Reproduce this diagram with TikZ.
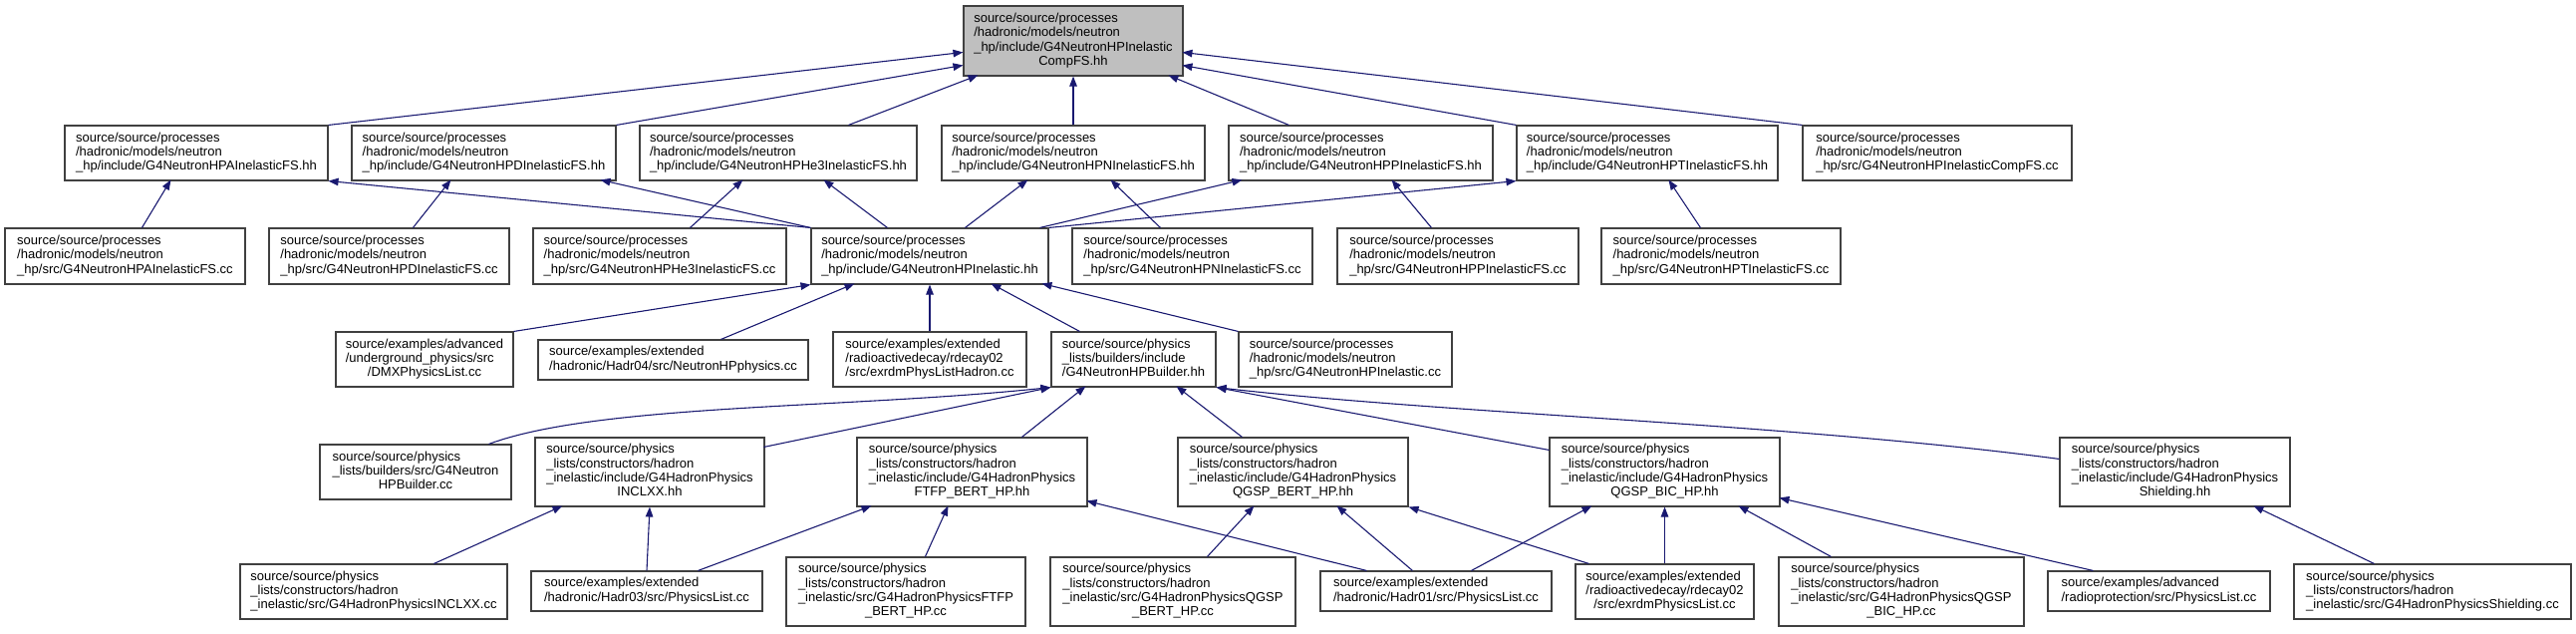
\documentclass[tikz,border=0pt]{standalone}
\usepackage{fontspec}
\setmainfont{Liberation Sans}
\usetikzlibrary{arrows.meta}
\definecolor{edgecol}{HTML}{191970}
\definecolor{rootfill}{HTML}{BFBFBF}
\newcommand\tl[2]{\begin{tabular}{@{}l@{}}#1\\\multicolumn{1}{@{}c@{}}{#2}\end{tabular}}
\newcommand\bx[6][]{\node[box,#1,minimum width={(#4-#2)*1pt},minimum height={(#5-#3)*1pt}] (#2X) at (0,0) {};}
\newcommand\nw[3]{([shift={(#2,#3)}]#1.north west)}
\tikzset{
  box/.style={draw=black!75, line width=1.1pt, fill=white, inner sep=0pt, font=\fontsize{13}{14.3}\selectfont},
  dep/.style={draw=edgecol, line width=1.1pt, -{Triangle[length=10pt,width=7.5pt]}}
}
\newcommand\B[7][]{\node[box,#1,minimum width={(#5-#3)*1pt},minimum height={(#6-#4)*1pt}] (#2) at ({(#3+#5)/2},{(#4+#6)/2}) {#7};}
\begin{document}
\begin{tikzpicture}[x=1pt,y=-1pt]
\useasboundingbox (0,0) rectangle (2585,635);
% row 0
\B[fill=rootfill]{root}{967}{6}{1187}{76}{\tl{source/source/processes\\/hadronic/models/neutron\\\_hp/include/G4NeutronHPInelastic}{CompFS.hh}}
% row 1
\B{A}{65}{126}{329}{181}{\tl{source/source/processes\\/hadronic/models/neutron}{\_hp/include/G4NeutronHPAInelasticFS.hh}}
\B{D}{353}{126}{618}{181}{\tl{source/source/processes\\/hadronic/models/neutron}{\_hp/include/G4NeutronHPDInelasticFS.hh}}
\B{He}{642}{126}{920}{181}{\tl{source/source/processes\\/hadronic/models/neutron}{\_hp/include/G4NeutronHPHe3InelasticFS.hh}}
\B{N}{945}{126}{1209}{181}{\tl{source/source/processes\\/hadronic/models/neutron}{\_hp/include/G4NeutronHPNInelasticFS.hh}}
\B{P}{1233}{126}{1498}{181}{\tl{source/source/processes\\/hadronic/models/neutron}{\_hp/include/G4NeutronHPPInelasticFS.hh}}
\B{T}{1522}{126}{1784}{181}{\tl{source/source/processes\\/hadronic/models/neutron}{\_hp/include/G4NeutronHPTInelasticFS.hh}}
\B{CompCC}{1809}{126}{2079}{181}{\tl{source/source/processes\\/hadronic/models/neutron}{\_hp/src/G4NeutronHPInelasticCompFS.cc}}
% row 2
\B{Acc}{5}{229}{246}{285}{\tl{source/source/processes\\/hadronic/models/neutron}{\_hp/src/G4NeutronHPAInelasticFS.cc}}
\B{Dcc}{270}{229}{511}{285}{\tl{source/source/processes\\/hadronic/models/neutron}{\_hp/src/G4NeutronHPDInelasticFS.cc}}
\B{Hecc}{535}{229}{789}{285}{\tl{source/source/processes\\/hadronic/models/neutron}{\_hp/src/G4NeutronHPHe3InelasticFS.cc}}
\B{Inel}{814}{229}{1052}{285}{\tl{source/source/processes\\/hadronic/models/neutron}{\_hp/include/G4NeutronHPInelastic.hh}}
\B{Ncc}{1076}{229}{1317}{285}{\tl{source/source/processes\\/hadronic/models/neutron}{\_hp/src/G4NeutronHPNInelasticFS.cc}}
\B{Pcc}{1342}{229}{1584}{285}{\tl{source/source/processes\\/hadronic/models/neutron}{\_hp/src/G4NeutronHPPInelasticFS.cc}}
\B{Tcc}{1607}{229}{1847}{285}{\tl{source/source/processes\\/hadronic/models/neutron}{\_hp/src/G4NeutronHPTInelasticFS.cc}}
% row 3
\B{DMX}{337}{333}{515}{388}{\tl{source/examples/advanced\\/underground\_physics/src}{/DMXPhysicsList.cc}}
\B{NHP}{540}{341}{811}{381}{\tl{source/examples/extended}{/hadronic/Hadr04/src/NeutronHPphysics.cc}}
\B{rdHad}{836}{333}{1030}{388}{\tl{source/examples/extended\\/radioactivedecay/rdecay02}{/src/exrdmPhysListHadron.cc}}
\B{Bhh}{1055}{333}{1220}{388}{\tl{source/source/physics\\\_lists/builders/include}{/G4NeutronHPBuilder.hh}}
\B{InelCC}{1243}{333}{1457}{388}{\tl{source/source/processes\\/hadronic/models/neutron}{\_hp/src/G4NeutronHPInelastic.cc}}
% row 4
\B{Bcc}{321}{446}{513}{501}{\tl{source/source/physics\\\_lists/builders/src/G4Neutron}{HPBuilder.cc}}
\B{INCLhh}{537}{439}{767}{508}{\tl{source/source/physics\\\_lists/constructors/hadron\\\_inelastic/include/G4HadronPhysics}{INCLXX.hh}}
\B{FTFPhh}{860}{439}{1091}{508}{\tl{source/source/physics\\\_lists/constructors/hadron\\\_inelastic/include/G4HadronPhysics}{FTFP\_BERT\_HP.hh}}
\B{QBERThh}{1182}{439}{1413}{508}{\tl{source/source/physics\\\_lists/constructors/hadron\\\_inelastic/include/G4HadronPhysics}{QGSP\_BERT\_HP.hh}}
\B{QBIChh}{1555}{439}{1786}{508}{\tl{source/source/physics\\\_lists/constructors/hadron\\\_inelastic/include/G4HadronPhysics}{QGSP\_BIC\_HP.hh}}
\B{Shh}{2067}{439}{2298}{508}{\tl{source/source/physics\\\_lists/constructors/hadron\\\_inelastic/include/G4HadronPhysics}{Shielding.hh}}
% row 5
\B{INCLcc}{241}{566}{509}{621}{\tl{source/source/physics\\\_lists/constructors/hadron}{\_inelastic/src/G4HadronPhysicsINCLXX.cc}}
\B{Hadr03}{533}{573}{765}{613}{\tl{source/examples/extended}{/hadronic/Hadr03/src/PhysicsList.cc}}
\B{FTFPcc}{789}{559}{1029}{628}{\tl{source/source/physics\\\_lists/constructors/hadron\\\_inelastic/src/G4HadronPhysicsFTFP}{\_BERT\_HP.cc}}
\B{QBERTcc}{1054}{559}{1300}{628}{\tl{source/source/physics\\\_lists/constructors/hadron\\\_inelastic/src/G4HadronPhysicsQGSP}{\_BERT\_HP.cc}}
\B{Hadr01}{1325}{573}{1557}{613}{\tl{source/examples/extended}{/hadronic/Hadr01/src/PhysicsList.cc}}
\B{rdPL}{1581}{566}{1760}{621}{\tl{source/examples/extended\\/radioactivedecay/rdecay02}{/src/exrdmPhysicsList.cc}}
\B{QBICcc}{1785}{559}{2031}{628}{\tl{source/source/physics\\\_lists/constructors/hadron\\\_inelastic/src/G4HadronPhysicsQGSP}{\_BIC\_HP.cc}}
\B{radio}{2055}{573}{2278}{613}{\tl{source/examples/advanced}{/radioprotection/src/PhysicsList.cc}}
\B{Scc}{2302}{566}{2580}{621}{\tl{source/source/physics\\\_lists/constructors/hadron}{\_inelastic/src/G4HadronPhysicsShielding.cc}}
% edges to root
\draw[dep] (A.north east) -- \nw{root}{0}{47};
\draw[dep] (D.north east) -- \nw{root}{0}{60};
\draw[dep] \nw{He}{210}{0} -- \nw{root}{15}{70};
\draw[dep] (N.north) -- (root.south);
\draw[dep] \nw{P}{61}{0} -- \nw{root}{206}{70};
\draw[dep] (T.north west) -- \nw{root}{220}{60};
\draw[dep] (CompCC.north west) -- \nw{root}{220}{47};
% row 2 -> row 1
\draw[dep] \nw{Acc}{138}{0} -- \nw{A}{107}{55};
\draw[dep] \nw{Dcc}{145}{0} -- \nw{D}{100}{55};
\draw[dep] \nw{Hecc}{158}{0} -- \nw{He}{104}{55};
\draw[dep] (Inel.north west) -- (A.south east);
\draw[dep] (Inel.north west) -- \nw{D}{250}{55};
\draw[dep] \nw{Inel}{77}{0} -- \nw{He}{185}{55};
\draw[dep] \nw{Inel}{155}{0} -- \nw{N}{87}{55};
\draw[dep] \nw{Ncc}{89}{0} -- \nw{N}{170}{55};
\draw[dep] \nw{Inel}{230}{0} -- \nw{P}{14}{55};
\draw[dep] \nw{Pcc}{95}{0} -- \nw{P}{164}{55};
\draw[dep] (Inel.north east) -- (T.south west);
\draw[dep] \nw{Tcc}{100}{0} -- \nw{T}{153}{55};
% row 3 -> Inel
\draw[dep] (DMX.north east) -- (Inel.south west);
\draw[dep] \nw{NHP}{184}{0} -- \nw{Inel}{44}{56};
\draw[dep] (rdHad.north) -- (Inel.south);
\draw[dep] \nw{Bhh}{29}{0} -- \nw{Inel}{181}{56};
\draw[dep] (InelCC.north west) -- \nw{Inel}{232}{56};
% row 4 -> Bhh
\draw[dep] \nw{Bcc}{170}{0} .. controls (600,405) and (850,410) .. (Bhh.south west);
\draw[dep] \nw{INCLhh}{230}{10} -- (Bhh.south west);
\draw[dep] \nw{FTFPhh}{166}{0} -- \nw{Bhh}{35}{55};
\draw[dep] \nw{QBERThh}{65}{0} -- \nw{Bhh}{126}{55};
\draw[dep] \nw{QBIChh}{0}{13} -- (Bhh.south east);
\draw[dep] \nw{Shh}{0}{22} .. controls (1800,425) and (1450,415) .. (Bhh.south east);
% row 5 -> row 4
\draw[dep] \nw{INCLcc}{195}{0} -- \nw{INCLhh}{28}{69};
\draw[dep] (Hadr03.north) -- (INCLhh.south);
\draw[dep] \nw{Hadr03}{168}{0} -- \nw{FTFPhh}{15}{69};
\draw[dep] \nw{FTFPcc}{140}{0} -- \nw{FTFPhh}{92}{69};
\draw[dep] \nw{Hadr01}{47}{0} -- \nw{FTFPhh}{231}{64};
\draw[dep] \nw{QBERTcc}{158}{0} -- \nw{QBERThh}{77}{69};
\draw[dep] \nw{Hadr01}{93}{0} -- \nw{QBERThh}{160}{69};
\draw[dep] \nw{rdPL}{14}{0} -- (QBERThh.south east);
\draw[dep] \nw{Hadr01}{152}{0} -- \nw{QBIChh}{43}{69};
\draw[dep] (rdPL.north) -- (QBIChh.south);
\draw[dep] \nw{QBICcc}{53}{0} -- \nw{QBIChh}{190}{69};
\draw[dep] \nw{radio}{46}{0} -- \nw{QBIChh}{231}{61};
\draw[dep] \nw{Scc}{81}{0} -- \nw{Shh}{195}{69};
\end{tikzpicture}
\end{document}
